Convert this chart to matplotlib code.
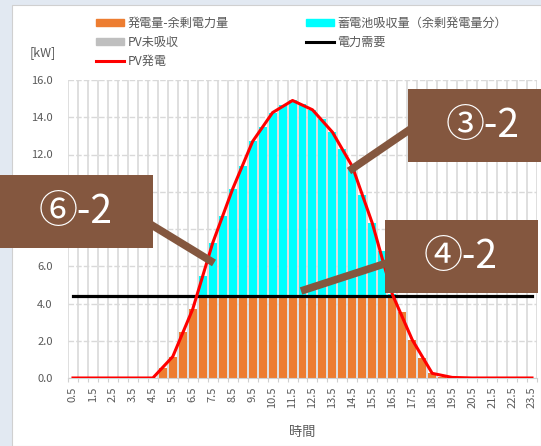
import numpy as np
import matplotlib
matplotlib.use('Agg')
import matplotlib.pyplot as plt
from matplotlib.patches import Patch, Rectangle
from matplotlib.lines import Line2D

plt.rcParams['font.family'] = ['Noto Sans CJK JP', 'DejaVu Sans']

# half-hour time points (hours)
hours = [0.5, 1.0, 1.5, 2.0, 2.5, 3.0, 3.5, 4.0, 4.5, 5.0, 5.5, 6.0, 6.5, 7.0, 7.5, 8.0,
         8.5, 9.0, 9.5, 10.0, 10.5, 11.0, 11.5, 12.0, 12.5, 13.0, 13.5, 14.0, 14.5, 15.0,
         15.5, 16.0, 16.5, 17.0, 17.5, 18.0, 18.5, 19.0, 19.5, 20.0, 20.5, 21.0, 21.5,
         22.0, 22.5, 23.0, 23.5]
# PV generation [kW] at each half hour
pv = [0, 0, 0, 0, 0, 0, 0, 0, 0, 0.55, 1.15, 2.45, 3.7, 5.45, 7.25, 8.7,
      10.15, 11.4, 12.7, 13.5, 14.25, 14.65, 14.9, 14.7, 14.4, 13.9, 13.2, 12.3, 11.35, 9.8,
      8.3, 6.8, 4.5, 3.55, 2.05, 1.05, 0.25, 0.05, 0.03, 0, 0, 0, 0,
      0, 0, 0, 0]
demand = 4.4
unabsorbed = [0] * len(hours)
tick_labels = ['0.5', '1.5', '2.5', '3.5', '4.5', '5.5', '6.5', '7.5', '8.5', '9.5', '10.5',
               '11.5', '12.5', '13.5', '14.5', '15.5', '16.5', '17.5', '18.5', '19.5',
               '20.5', '21.5', '22.5', '23.5']

x = np.array(hours)
pv = np.array(pv)
used = np.minimum(pv, demand)
surplus = pv - used

c_orange = '#ed7d31'
c_cyan = '#00ffff'
c_gray = '#bfbfbf'
c_text = '#595959'
c_brown = '#84573f'

W, H = 541, 446
fig = plt.figure(figsize=(W / 100, H / 100), dpi=100)
fig.patch.set_facecolor('#e2e9f2')
fig.add_artist(Rectangle((12 / W, 0), (W - 12) / W, 1 - 5 / H, transform=fig.transFigure,
                         facecolor='white', edgecolor='#d0d0d0', lw=0.8, zorder=-5))

ax = fig.add_axes([68 / W, 1 - 378 / H, (537 - 68) / W, (378 - 80) / H])
ax.set_facecolor('none')

ax.bar(x, used, width=0.4, color=c_orange, zorder=2)
ax.bar(x, surplus, width=0.4, bottom=used, color=c_cyan, zorder=2)
ax.bar(x, unabsorbed, width=0.4, bottom=pv, color=c_gray, zorder=2)
ax.plot([x[0], x[-1]], [demand, demand], color='black', lw=2.3, zorder=3)
ax.plot(x[::2], pv[::2], color='red', lw=2.2, zorder=4)

ax.set_xlim(0.25, 23.75)
ax.set_ylim(0, 16)
ax.set_yticks(np.arange(0, 16.1, 2))
ax.set_yticklabels([f'{v:.1f}' for v in np.arange(0, 16.1, 2)])
ax.set_xticks(x[::2])
ax.set_xticklabels(tick_labels, rotation=90)
ax.set_xticks(np.arange(0.25, 23.8, 0.5), minor=True)
ax.tick_params(axis='x', which='major', length=0, pad=6, labelsize=8, labelcolor=c_text)
ax.tick_params(axis='x', which='minor', length=3, color='#d0d0d0', width=0.8)
ax.tick_params(axis='y', length=0, pad=11, labelsize=8, labelcolor=c_text)
ax.grid(axis='x', which='minor', color='#d9d9d9', lw=1.2, zorder=0)
ax.grid(axis='y', which='major', color='#d9d9d9', lw=1.0, linestyle=(0, (4, 1.5)), zorder=0)
for s in ['top', 'right', 'left']:
    ax.spines[s].set_visible(False)
ax.spines['bottom'].set_color('#d0d0d0')
ax.set_axisbelow(True)
ax.set_xlabel('時間', fontsize=9.5, color=c_text, labelpad=13)

fig.text(43 / W, 1 - 53 / H, '[kW]', ha='center', va='center', fontsize=9, color=c_text)

# legend
h1 = [Patch(color=c_orange), Patch(color=c_gray), Line2D([], [], color='red', lw=2.2)]
l1 = ['発電量-余剰電力量', 'PV未吸収', 'PV発電']
h2 = [Patch(color=c_cyan), Line2D([], [], color='black', lw=2.2)]
l2 = ['蓄電池吸収量（余剰発電量分）', '電力需要']
for hh, ll, x0 in [(h1, l1, 96), (h2, l2, 306)]:
    leg = fig.legend(hh, ll, loc='upper left', bbox_to_anchor=(x0 / W, 1 - 17 / H),
                     frameon=False, fontsize=8.7, handlelength=2.3, handleheight=0.45,
                     handletextpad=0.3, labelspacing=0.5, borderpad=0, borderaxespad=0)
    for t in leg.get_texts():
        t.set_color(c_text)

# callouts
ov = fig.add_axes([0, 0, 1, 1], zorder=5)
ov.set_xlim(0, W)
ov.set_ylim(H, 0)
ov.axis('off')
for (bx0, by0, bx1, by1), (lx0, ly0, lx1, ly1), txt, (tx, ty) in [
        ((408, 89, 545, 162), (349, 171, 412, 128), '③-2', (483, 126)),
        ((-5, 175, 153, 248), (150, 224, 214, 263), '⑥-2', (76, 212)),
        ((385, 220, 538, 293), (301, 291, 390, 262), '④-2', (461, 257))]:
    ov.plot([lx0, lx1], [ly0, ly1], color=c_brown, lw=5.5, solid_capstyle='butt', zorder=1)
    ov.add_patch(Rectangle((bx0, by0), bx1 - bx0, by1 - by0, facecolor=c_brown,
                           edgecolor='none', zorder=2))
    ov.text(tx, ty, txt, ha='center', va='center', color='white', fontsize=28, zorder=3)

fig.savefig('out.png', dpi=100, facecolor=fig.get_facecolor())
